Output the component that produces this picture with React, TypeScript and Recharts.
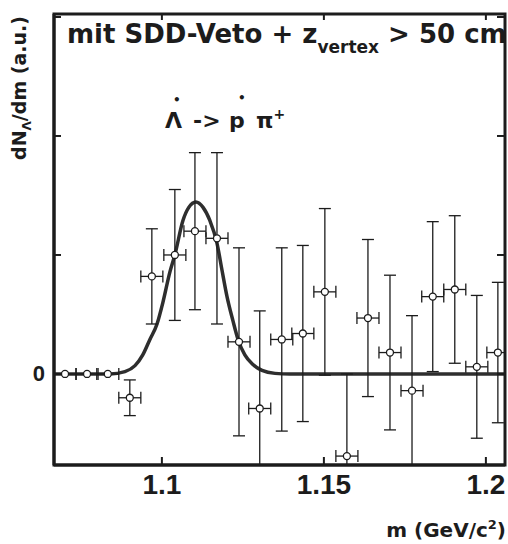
import React from 'react';
import { ComposedChart, Line, Scatter, ErrorBar, XAxis, YAxis } from 'recharts';

// invariant mass bins (GeV/c^2) with yield and error
const binMass = [
  1.0701, 1.0769, 1.0833, 1.0901, 1.0969, 1.104, 1.1102, 1.117, 1.1238, 1.1302, 1.137,
  1.1435, 1.1503, 1.1571, 1.1636, 1.1704, 1.1772, 1.1836, 1.1904, 1.1972, 1.2037,
];
const binYield = [
  0, 0, 0, -0.2, 0.82, 1.0, 1.2, 1.14, 0.27, -0.29, 0.29,
  0.34, 0.69, -0.69, 0.47, 0.18, -0.14, 0.65, 0.71, 0.06, 0.18,
];
const binError = [
  0, 0, 0, 0.15, 0.4, 0.55, 0.66, 0.72, 0.79, 0.82, 0.77,
  0.74, 0.7, 0.69, 0.66, 0.65, 0.63, 0.63, 0.62, 0.6, 0.59,
];
const binHalfWidth = 0.0034;

// gaussian fit, sampled by eye along the drawn curve
const fitMass = [
  1.0667, 1.084, 1.0886, 1.0917, 1.0941, 1.0963, 1.0985, 1.1003, 1.1025, 1.104, 1.1065,
  1.1083, 1.1105, 1.1127, 1.1148, 1.117, 1.1185, 1.1201, 1.1219, 1.1235, 1.1256, 1.1281,
  1.1309, 1.1349, 1.1395, 1.2059,
];
const fitYield = [
  0, 0, 0.02, 0.07, 0.16, 0.29, 0.42, 0.6, 0.86, 1.0, 1.29,
  1.4, 1.445, 1.4, 1.29, 1.1, 0.88, 0.65, 0.45, 0.29, 0.16, 0.08,
  0.03, 0.005, 0, 0,
];

const massTicks = [1.1, 1.15, 1.2];
const yieldTicks = [0, 1, 2, 3];
const labelledYieldTicks = [0];

const massDomain = [1.0667, 1.2059];
const yieldDomain = [-0.765, 3.025];

const W = 508;
const H = 544;
const MARGIN = { top: 14, right: 3, bottom: 49, left: 18 };
const Y_AXIS_W = 36;
const X_AXIS_H = 30;
// plot box: clips the error bars and closes the frame on top and right
const plotX = MARGIN.left + Y_AXIS_W;
const plotY = MARGIN.top;
const plotW = W - plotX - MARGIN.right;
const plotH = H - plotY - MARGIN.bottom - X_AXIS_H;
const plotRight = plotX + plotW;

const INK = '#1c1c1c';
const BOLD = "'DejaVu Sans', sans-serif";
const NUM = "'Liberation Sans', Arial, sans-serif";

const points = binMass.map((m, i) => ({ m, v: binYield[i], ye: binError[i], xe: binHalfWidth }));
const fit = fitMass.map((m, i) => ({ m, v: fitYield[i] }));

// x ticks: inward on the bottom axis, mirrored on the top edge of the box
const BottomTick = (props: any) => {
  const { x, y, payload } = props;
  return (
    <g>
      <line x1={x} y1={y} x2={x} y2={y - 8} stroke={INK} strokeWidth={2} />
      <line x1={x} y1={plotY} x2={x} y2={plotY + 6} stroke={INK} strokeWidth={2} />
      <text x={x} y={y + 29} textAnchor="middle" fontFamily={NUM} fontWeight={700} fontSize={28} fill={INK}>
        {payload.value}
      </text>
    </g>
  );
};

// y ticks: inward on the left axis, mirrored on the right edge of the box
const LeftTick = (props: any) => {
  const { x, y, payload } = props;
  return (
    <g>
      <line x1={x} y1={y} x2={x + 7} y2={y} stroke={INK} strokeWidth={2} />
      <line x1={plotRight} y1={y} x2={plotRight - 8} y2={y} stroke={INK} strokeWidth={2} />
      {labelledYieldTicks.includes(payload.value) && (
        <text x={x - 9} y={y + 7} textAnchor="end" fontFamily={NUM} fontWeight={700} fontSize={22} fill={INK}>
          {payload.value}
        </text>
      )}
    </g>
  );
};

const OpenPoint = (props: any) => (
  <circle cx={props.cx} cy={props.cy} r={3.5} fill="#fff" stroke={INK} strokeWidth={1.3} />
);

export default function App() {
  const frame = { stroke: INK, strokeWidth: 3 };
  return (
    <div style={{ position: 'absolute', left: 0, top: 0, width: W, height: H, background: '#fff' }}>
      <style>{'.recharts-errorBar line { clip-path: url(#plotClip); }'}</style>
      <svg width={0} height={0} style={{ position: 'absolute' }}>
        <defs>
          <clipPath id="plotClip" clipPathUnits="userSpaceOnUse">
            <rect x={plotX} y={plotY} width={plotW} height={plotH} />
          </clipPath>
        </defs>
      </svg>
      <ComposedChart width={W} height={H} margin={MARGIN}>
        <XAxis
          dataKey="m"
          type="number"
          domain={massDomain}
          allowDataOverflow
          ticks={massTicks}
          interval={0}
          tick={BottomTick}
          tickLine={false}
          tickSize={0}
          tickMargin={0}
          height={X_AXIS_H}
          axisLine={frame}
        />
        <YAxis
          type="number"
          domain={yieldDomain}
          allowDataOverflow
          ticks={yieldTicks}
          interval={0}
          tick={LeftTick}
          tickLine={false}
          tickSize={0}
          tickMargin={0}
          width={Y_AXIS_W}
          axisLine={frame}
        />
        <Line
          data={fit}
          dataKey="v"
          type="monotone"
          dot={false}
          stroke="#2e2e2e"
          strokeWidth={3.5}
          isAnimationActive={false}
        />
        <Scatter data={points} dataKey="v" shape={OpenPoint} isAnimationActive={false}>
          <ErrorBar dataKey="ye" direction="y" width={6} stroke={INK} strokeWidth={1.3} />
          <ErrorBar dataKey="xe" direction="x" width={6} stroke={INK} strokeWidth={1.3} />
        </Scatter>
      </ComposedChart>
      <svg
        width={W}
        height={H}
        style={{ position: 'absolute', left: 0, top: 0, pointerEvents: 'none', whiteSpace: 'pre' }}
      >
        <rect x={plotX} y={plotY} width={plotW} height={plotH} fill="none" stroke={INK} strokeWidth={3} />
        <text x={67} y={43} fontFamily={BOLD} fontWeight={700} fontSize={26} fill={INK}>
          mit SDD-Veto + z
          <tspan fontSize={17} dy={10}>vertex</tspan>
          <tspan dy={-10}> &gt; 50 cm</tspan>
        </text>
        <text y={128} fontFamily={BOLD} fontWeight={700} fontSize={22} fill={INK}>
          <tspan x={165}>Λ</tspan>
          <tspan x={173} y={104} fontSize={12}>•</tspan>
          <tspan x={193} y={128}>-&gt;</tspan>
          <tspan x={229}>p</tspan>
          <tspan x={238} y={102} fontSize={12}>•</tspan>
          <tspan x={256} y={128}>π</tspan>
          <tspan dy={-9} fontSize={14}>+</tspan>
        </text>
        <text
          transform="translate(26,88) rotate(-90)"
          textAnchor="middle"
          fontFamily={BOLD}
          fontWeight={700}
          fontSize={19}
          fill={INK}
        >
          dN<tspan fontSize={12} dy={5}>Λ</tspan>
          <tspan dy={-5}>/dm (a.u.)</tspan>
        </text>
        <text x={506} y={537} textAnchor="end" fontFamily={BOLD} fontWeight={700} fontSize={20} fill={INK}>
          m (GeV/c<tspan fontSize={13} dy={-8}>2</tspan>
          <tspan dy={8}>)</tspan>
        </text>
      </svg>
    </div>
  );
}
